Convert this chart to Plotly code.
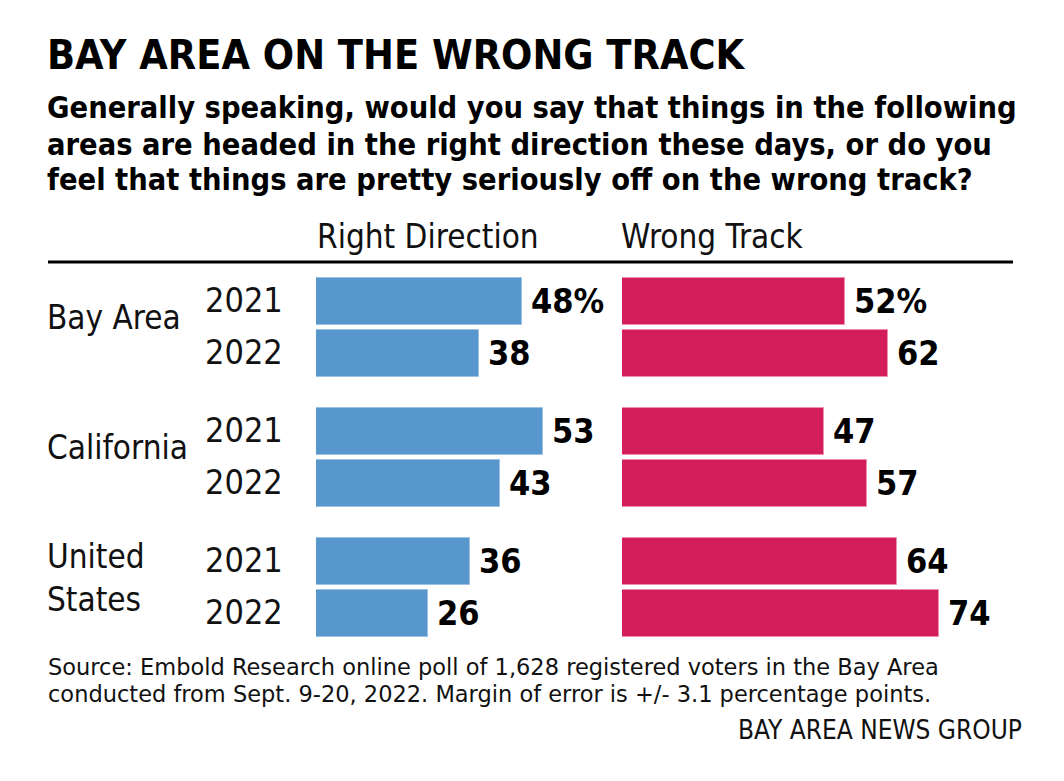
import plotly.graph_objects as go

# ---- data ----
regions = ["Bay Area", "California", "United<br>States"]
years = ["2021", "2022"]
right_direction = [48, 38, 53, 43, 36, 26]
wrong_track = [52, 62, 47, 57, 64, 74]
title = "BAY AREA ON THE WRONG TRACK"
subtitle_lines = [
    "Generally speaking, would you say that things in the following",
    "areas are headed in the right direction these days, or do you",
    "feel that things are pretty seriously off on the wrong track?",
]
source_lines = [
    "Source: Embold Research online poll of 1,628 registered voters in the Bay Area",
    "conducted from Sept. 9-20, 2022. Margin of error is +/- 3.1 percentage points.",
]
credit = "BAY AREA NEWS GROUP"

# ---- layout constants ----
OFF = 8                     # page body margin
W, H = 1064 - OFF, 781 - OFF
BLUE = "#5897CB"
RED = "#D41E5B"
FONT = "DejaVu Sans Condensed, Liberation Sans Narrow, Liberation Sans, sans-serif"
BOLD = "DejaVu Sans Condensed, Liberation Sans, sans-serif"
SRC_FONT = "DejaVu Sans, Liberation Sans, sans-serif"


def px(x):
    return (x - OFF) / W


def py(y):
    return 1 - (y - OFF) / H


# row positions (in row units): groups separated by an extra half row
pos = []
cats = []
for g in range(len(regions)):
    for j in range(len(years)):
        pos.append(g * 2.5 + j)
        cats.append(years[j])

ROW = 52.0                 # px per row unit
Y0 = 301.5 - OFF           # px center of first row within figure
y_top = -Y0 / ROW
y_bot = (H - Y0) / ROW

fig = go.Figure()
fig.add_trace(go.Bar(
    x=right_direction, y=pos, orientation="h", xaxis="x", yaxis="y",
    width=47 / ROW, marker=dict(color=BLUE, line=dict(color="#9cc2e3", width=1)),
    hoverinfo="x", showlegend=False,
))
fig.add_trace(go.Bar(
    x=wrong_track, y=pos, orientation="h", xaxis="x2", yaxis="y",
    width=47 / ROW, marker=dict(color=RED, line=dict(color="#ea8fae", width=1)),
    hoverinfo="x", showlegend=False,
))

scale = 4.29  # px per percentage point
fig.update_layout(
    width=W, height=H,
    margin=dict(l=0, r=0, t=0, b=0),
    paper_bgcolor="white", plot_bgcolor="white",
    bargap=0,
    xaxis=dict(domain=[px(316), px(316 + scale * 70)], range=[0, 70],
               visible=False, fixedrange=True),
    xaxis2=dict(domain=[px(622), px(622 + scale * 90)], range=[0, 90],
                visible=False, fixedrange=True),
    yaxis=dict(domain=[0, 1], range=[y_bot, y_top], visible=False, fixedrange=True),
    showlegend=False,
)

ann = []
# value labels
for axis, vals in (("x", right_direction), ("x2", wrong_track)):
    for i, (v, p) in enumerate(zip(vals, pos)):
        ann.append(dict(x=v, y=p, xref=axis, yref="y", text=f"{v}%" if i == 0 else f"{v}",
                        showarrow=False, xanchor="left", yanchor="middle", xshift=7, yshift=1,
                        font=dict(family=BOLD, size=34, color="black", weight="bold")))
# year labels
for c, p in zip(cats, pos):
    ann.append(dict(x=px(203), y=p, xref="paper", yref="y", text=c, showarrow=False,
                    xanchor="left", yanchor="middle", yshift=2,
                    font=dict(family=FONT, size=34, color="#111")))
# region labels
for g, r in enumerate(regions):
    mid = g * 2.5 + 0.5
    ann.append(dict(x=px(45), y=mid, xref="paper", yref="y", text=r, showarrow=False,
                    xanchor="left", yanchor="middle", yshift=10, align="left",
                    font=dict(family=FONT, size=33, color="#111")))
# column headers
ann.append(dict(x=px(315), y=py(237), xref="paper", yref="paper", text="Right Direction",
                showarrow=False, xanchor="left", yanchor="middle",
                font=dict(family=FONT, size=33, color="#111")))
ann.append(dict(x=px(619), y=py(237), xref="paper", yref="paper", text="Wrong Track",
                showarrow=False, xanchor="left", yanchor="middle",
                font=dict(family=FONT, size=33, color="#111")))
# title / subtitle
ann.append(dict(x=px(45), y=py(55), xref="paper", yref="paper", text=f"<b>{title}</b>",
                showarrow=False, xanchor="left", yanchor="middle",
                font=dict(family=BOLD, size=41, color="black")))
for k, line in enumerate(subtitle_lines):
    ann.append(dict(x=px(45), y=py(108 + 36 * k), xref="paper", yref="paper",
                    text=f"<b>{line}</b>", showarrow=False, xanchor="left", yanchor="middle",
                    font=dict(family=BOLD, size=30.5, color="black")))
# source / credit
for k, line in enumerate(source_lines):
    ann.append(dict(x=px(46), y=py(666.5 + 27 * k), xref="paper", yref="paper", text=line,
                    showarrow=False, xanchor="left", yanchor="middle",
                    font=dict(family=SRC_FONT, size=22.5, color="#111")))
ann.append(dict(x=px(1024), y=py(730), xref="paper", yref="paper", text=credit,
                showarrow=False, xanchor="right", yanchor="middle",
                font=dict(family=FONT, size=26, color="#111")))
fig.update_layout(annotations=ann)

# rule under column headers
fig.add_shape(type="line", xref="paper", yref="paper",
              x0=px(48), x1=px(1013), y0=py(262), y1=py(262),
              line=dict(color="black", width=3))

fig.write_html("out.html")
